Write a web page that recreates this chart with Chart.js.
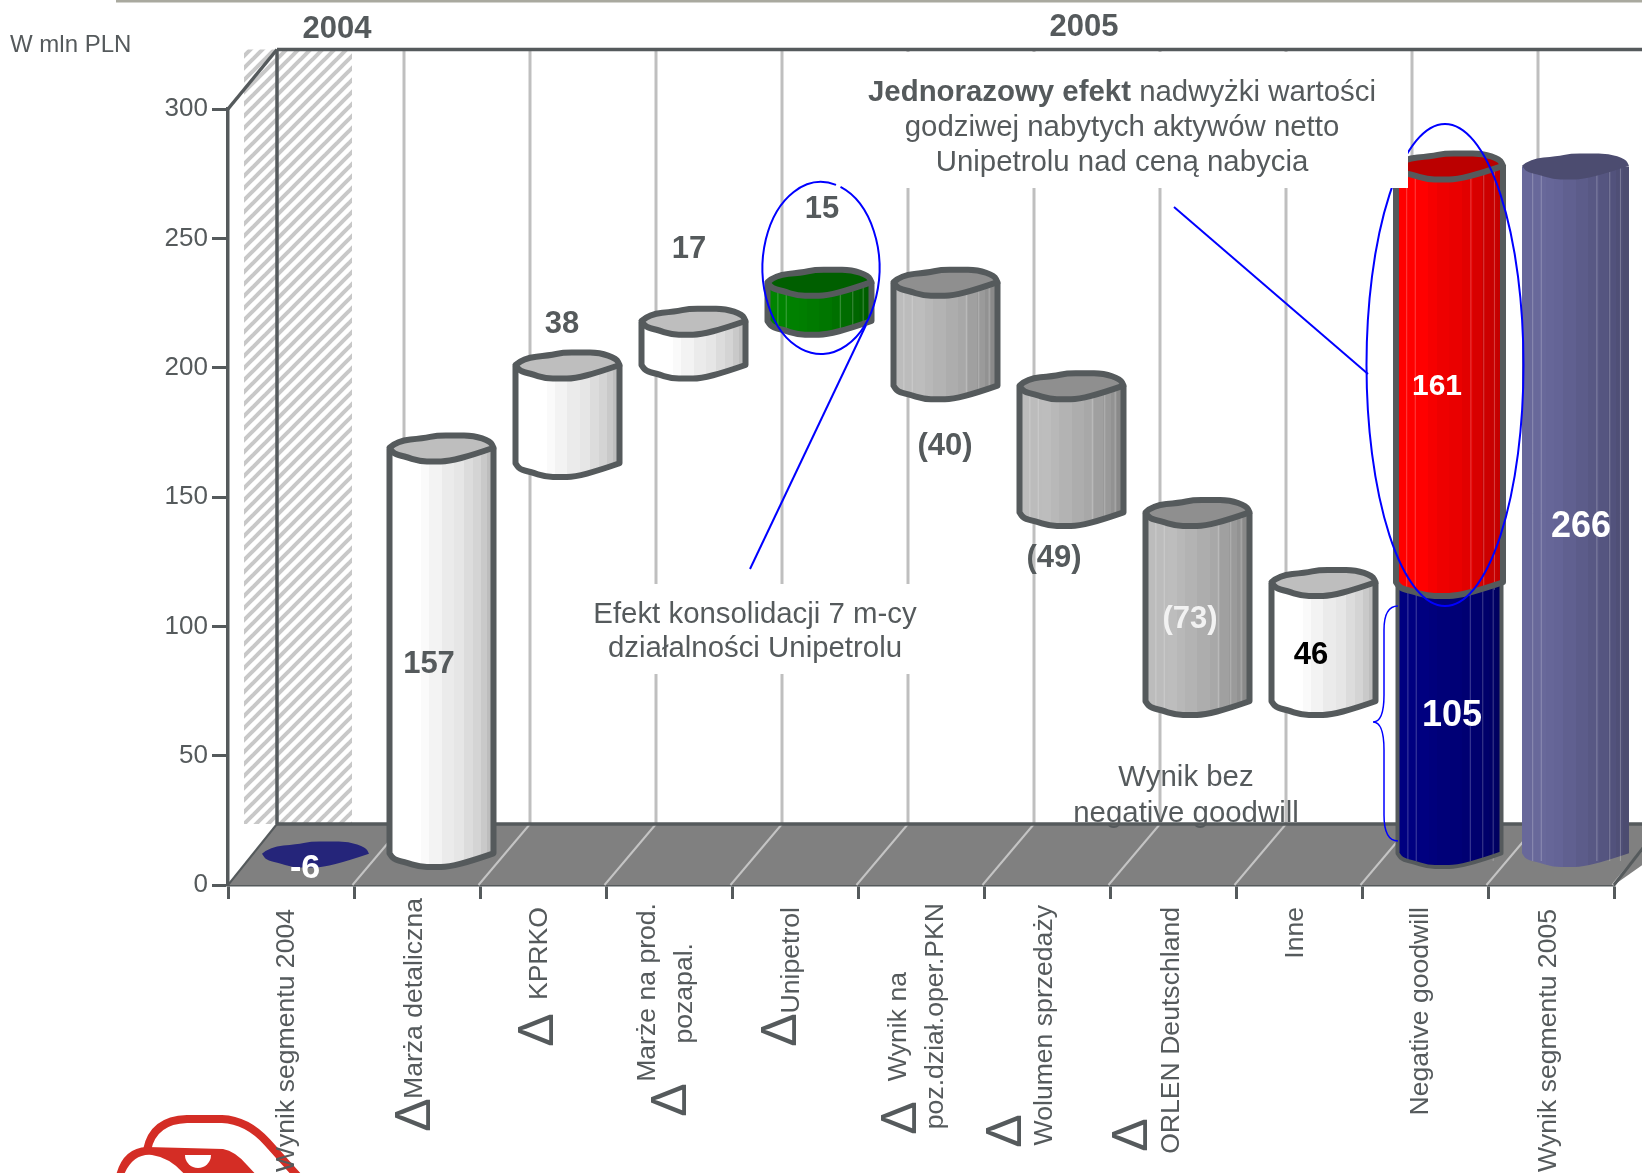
<!DOCTYPE html>
<html>
<head>
<meta charset="utf-8">
<style>
  html, body { margin: 0; padding: 0; background: #fff; overflow: hidden; }
  #wrap { width: 1642px; height: 1173px; }
</style>
<script src="https://cdn.jsdelivr.net/npm/chart.js@4"></script>
</head>
<body>
<div id="wrap"><canvas id="grafico" width="1642" height="1173"></canvas></div>
<script>
// datos del grafico
const categorias = ["Wynik segmentu 2004", "Marża detaliczna", "KPRKO", "Marże na prod. pozapal.", "Unipetrol",
  "Wynik na poz.dział.oper.PKN", "Wolumen sprzedaży", "ORLEN Deutschland", "Inne", "Negative goodwill", "Wynik segmentu 2005"];
const inicios = [0, 0, 151, 189, 206, 181, 132, 59, 59, 0, 0];
const finales = [0, 157, 189, 206, 221, 221, 181, 132, 105, 105, 266];
const goodwillInicio = 105;
const goodwillFinal = 266;
const etiquetasValor = ["-6", "157", "38", "17", "15", "(40)", "(49)", "(73)", "46", "105", "266"];
const etiquetaGoodwill = "161";
const ticksY = [0, 50, 100, 150, 200, 250, 300];

const GRIS = "#555a5c";
const FUENTE = "'Liberation Sans', Arial, sans-serif";
const DX = 49, DY = -61; // profundidad del piso

// colores de cada cilindro: bandas verticales de izq a der
const BLANCO = ["#ffffff", "#ffffff", "#fafafa", "#f3f3f3", "#ebebeb", "#e6e6e6", "#dcdcdc", "#d4d4d4", "#c9c9c9", "#bdbdbd"];
const PLOMO = ["#bcbcbc", "#bdbdbd", "#b8b8b8", "#b3b3b3", "#adadad", "#a8a8a8", "#a0a0a0", "#9a9a9a", "#929292", "#8a8a8a"];
const VERDE = ["#008400", "#008000", "#007e00", "#007a00", "#007600", "#007000", "#006c00", "#006600", "#006200", "#005c00"];
const ROJO = ["#ff0000", "#ff0000", "#f60000", "#ee0000", "#ea0000", "#e20000", "#d80000", "#cc0000", "#c80000", "#c20000"];
const AZUL = ["#000080", "#000080", "#00007c", "#000078", "#000076", "#000072", "#00006e", "#00006a", "#000066", "#000060"];
const LILA = ["#68689a", "#666698", "#646496", "#606090", "#5c5c8a", "#585884", "#555580", "#52527c", "#4f4f76", "#4c4c70"];
const estilos = [
  { tapa: "#25257a", bandas: null, borde: 0 },
  { tapa: "#bebebe", bandas: BLANCO, borde: 6 },
  { tapa: "#bebebe", bandas: BLANCO, borde: 6 },
  { tapa: "#bebebe", bandas: BLANCO, borde: 6 },
  { tapa: "#005f00", bandas: VERDE, borde: 6, rayas: true },
  { tapa: "#8f8f8f", bandas: PLOMO, borde: 6, rayas: true },
  { tapa: "#8f8f8f", bandas: PLOMO, borde: 6, rayas: true },
  { tapa: "#8f8f8f", bandas: PLOMO, borde: 6, rayas: true },
  { tapa: "#bebebe", bandas: BLANCO, borde: 6 },
  { tapa: null, bandas: AZUL, borde: 4, rayas: true },
  { tapa: "#4c4c70", bandas: LILA, borde: 0, rayas: true }
];
const estiloGoodwill = { tapa: "#bb0000", bandas: ROJO, borde: 6, rayas: true };

// contorno ondulado de la tapa, en unidades del radio
const ARRIBA = [[-1, -0.05], [-0.85, -0.6], [-0.35, -0.78], [-0.09, -1], [0.25, -1], [0.62, -1], [0.94, -0.55], [1, -0.05]];
const ABAJO = [[1, -0.05], [0.62, 0.48], [0.13, 1], [-0.15, 1], [-0.41, 1], [-0.73, 0.6], [-0.92, 0.42], [-1, -0.05]];

function trazo(ctx, pts, nuevo) {
  if (nuevo) ctx.moveTo(pts[0][0], pts[0][1]); else ctx.lineTo(pts[0][0], pts[0][1]);
  for (let i = 1; i < pts.length - 1; i++) {
    const mx = (pts[i][0] + pts[i + 1][0]) / 2, my = (pts[i][1] + pts[i + 1][1]) / 2;
    ctx.quadraticCurveTo(pts[i][0], pts[i][1], mx, my);
  }
  const u = pts[pts.length - 1];
  ctx.lineTo(u[0], u[1]);
}

function cilindro(ctx, bar, estilo) {
  const rx = bar.width / 2 + (estilo.borde ? 0 : 1.5), ry = 13;
  const x = bar.x + DX / 2, top = bar.y + DY / 2, base = bar.base + DY / 2;
  const esc = (forma, cy) => forma.map(p => [x + p[0] * rx, cy + p[1] * ry]);
  ctx.save();
  ctx.lineJoin = "round";
  if (estilo.bandas) {
    const g = ctx.createLinearGradient(x - rx, 0, x + rx, 0);
    const anchos = [0.22, 0.08, 0.08, 0.12, 0.12, 0.1, 0.08, 0.08, 0.06, 0.06];
    let acum = 0;
    estilo.bandas.forEach((c, i) => {
      g.addColorStop(acum, c);
      acum += anchos[i];
      g.addColorStop(Math.min(acum, 1), c);
    });
    ctx.beginPath();
    ctx.moveTo(x - rx, top);
    ctx.lineTo(x + rx, top);
    trazo(ctx, esc(ABAJO, base), false);
    ctx.closePath();
    ctx.fillStyle = g;
    ctx.fill();
    if (estilo.rayas) {
      ctx.strokeStyle = "rgba(255,255,255,0.25)";
      ctx.lineWidth = 1;
      [0.1, 0.18, 0.7, 0.82, 0.92].forEach(u => {
        ctx.beginPath();
        ctx.moveTo(x - rx + 2 * rx * u, top);
        ctx.lineTo(x - rx + 2 * rx * u, base + 7);
        ctx.stroke();
      });
    }
    if (estilo.borde) {
      ctx.beginPath();
      ctx.moveTo(x + rx, top);
      trazo(ctx, esc(ABAJO, base), false);
      ctx.lineTo(x - rx, top);
      ctx.strokeStyle = GRIS;
      ctx.lineWidth = estilo.borde;
      ctx.stroke();
    }
  }
  if (estilo.tapa) {
    ctx.beginPath();
    trazo(ctx, esc(ARRIBA, top), true);
    trazo(ctx, esc(ABAJO, top), false);
    ctx.closePath();
    ctx.fillStyle = estilo.tapa;
    ctx.fill();
    if (estilo.borde) {
      ctx.strokeStyle = GRIS;
      ctx.lineWidth = estilo.borde;
      ctx.stroke();
    }
  }
  ctx.restore();
}

function trama() {
  const c = document.createElement("canvas");
  c.width = 12; c.height = 12;
  const t = c.getContext("2d");
  t.strokeStyle = "#c8c8c8";
  t.lineWidth = 4;
  [[-12, 12, 12, -12], [0, 12, 12, 0], [0, 24, 24, 0]].forEach(l => {
    t.beginPath(); t.moveTo(l[0], l[1]); t.lineTo(l[2], l[3]); t.stroke();
  });
  return c;
}

function linea(ctx, x1, y1, x2, y2, color, ancho) {
  ctx.beginPath();
  ctx.moveTo(x1, y1);
  ctx.lineTo(x2, y2);
  ctx.strokeStyle = color;
  ctx.lineWidth = ancho;
  ctx.stroke();
}

function texto(ctx, s, x, y, fuente, color, align) {
  ctx.font = fuente;
  ctx.fillStyle = color;
  ctx.textAlign = align || "center";
  ctx.textBaseline = "middle";
  ctx.fillText(s, x, y + 2);
}

// pared, piso y lineas de fondo
const fondo = {
  id: "fondo",
  beforeDatasetsDraw(chart) {
    const ctx = chart.ctx, a = chart.chartArea;
    const paso = (a.right - a.left) / categorias.length;
    const yTop = a.top + DY + 1.5, yPiso = a.bottom + DY;
    ctx.save();
    // linea superior de la lamina
    linea(ctx, 116, 1, 1642, 1, "#a9a99f", 3);
    // trama de 2004
    ctx.fillStyle = ctx.createPattern(trama(), "repeat");
    ctx.fillRect(a.left + 16, yTop, paso - 16 - 2, yPiso - yTop);
    // piso
    ctx.beginPath();
    ctx.moveTo(a.left, a.bottom);
    ctx.lineTo(a.left + DX, yPiso);
    ctx.lineTo(1700, yPiso);
    ctx.lineTo(a.right, a.bottom);
    ctx.closePath();
    ctx.fillStyle = "#808080";
    ctx.fill();
    for (let i = 1; i <= categorias.length; i++) {
      const x = a.left + paso * i;
      if (i < categorias.length) linea(ctx, x + DX + 1, yTop, x + DX + 1, yPiso, "#bfbfbf", 3);
      linea(ctx, x - 1.5, a.bottom, x + DX + 1, yPiso, "#c4c4c4", 2);
    }
    // pared
    linea(ctx, a.left, a.top, a.left + DX, yTop, GRIS, 3.5);
    linea(ctx, a.left + DX, yTop, 1642, yTop, GRIS, 3.5);
    linea(ctx, a.left + DX, yTop, a.left + DX, yPiso, GRIS, 3.5);
    linea(ctx, a.left, a.bottom, a.left + DX, yPiso, GRIS, 2);
    linea(ctx, a.left + DX, yPiso, 1642, yPiso, GRIS, 3.5);
    linea(ctx, a.right, a.bottom, 1650, a.bottom - 46, GRIS, 3);
    ctx.restore();
  },
  // las barras se dibujan como cilindros, desde los elementos del propio chart
  beforeDatasetDraw(chart, args) {
    const meta = args.meta, datos = chart.data.datasets[args.index].data;
    meta.data.forEach((bar, i) => {
      if (!datos[i]) return;
      cilindro(chart.ctx, bar, args.index === 0 ? estilos[i] : estiloGoodwill);
    });
    return false;
  },
  afterDatasetsDraw(chart) {
    const ctx = chart.ctx;
    ctx.save();
    // elipses y lineas azules
    ctx.strokeStyle = "#0000ff";
    ctx.lineWidth = 2;
    ctx.beginPath();
    ctx.ellipse(821, 268, 58.5, 86, 0, -Math.PI / 2 + 0.34, -Math.PI / 2 + 0.26 + Math.PI * 2);
    ctx.stroke();
    ctx.beginPath();
    ctx.ellipse(1445, 365, 78.5, 241, 0, 0, Math.PI * 2);
    ctx.stroke();
    linea(ctx, 750, 569, 866, 325, "#0000ff", 2);
    linea(ctx, 1174, 207, 1368, 374, "#0000ff", 2);
    // llave azul
    ctx.beginPath();
    ctx.moveTo(1398, 606);
    ctx.quadraticCurveTo(1384, 606, 1384, 630);
    ctx.lineTo(1384, 695);
    ctx.quadraticCurveTo(1384, 722, 1373, 722);
    ctx.quadraticCurveTo(1384, 722, 1384, 750);
    ctx.lineTo(1384, 815);
    ctx.quadraticCurveTo(1384, 841, 1398, 841);
    ctx.strokeStyle = "#0000ff";
    ctx.lineWidth = 1.5;
    ctx.stroke();
    // cuadros blancos de los textos
    ctx.fillStyle = "#fff";
    ctx.fillRect(860, 52, 548, 136);
    ctx.fillRect(586, 584, 336, 90);

    const f = 29.4;
    ctx.font = "bold " + f + "px " + FUENTE;
    const neg = "Jednorazowy efekt";
    const resto = " nadwyżki wartości";
    const w1 = ctx.measureText(neg).width;
    ctx.font = f + "px " + FUENTE;
    const w2 = ctx.measureText(resto).width;
    const ini = 1122 - (w1 + w2) / 2;
    texto(ctx, neg, ini, 91, "bold " + f + "px " + FUENTE, GRIS, "left");
    texto(ctx, resto, ini + w1, 91, f + "px " + FUENTE, GRIS, "left");
    texto(ctx, "godziwej nabytych aktywów netto", 1122, 126, f + "px " + FUENTE, GRIS);
    texto(ctx, "Unipetrolu nad ceną nabycia", 1122, 161, f + "px " + FUENTE, GRIS);
    texto(ctx, "Efekt konsolidacji 7 m-cy", 755, 613, f + "px " + FUENTE, GRIS);
    texto(ctx, "działalności Unipetrolu", 755, 647, f + "px " + FUENTE, GRIS);
    texto(ctx, "Wynik bez", 1186, 776, f + "px " + FUENTE, GRIS);
    texto(ctx, "negative goodwill", 1186, 812, f + "px " + FUENTE, GRIS);
    texto(ctx, "2004", 337, 27, "bold 31px " + FUENTE, GRIS);
    texto(ctx, "2005", 1084, 25, "bold 31px " + FUENTE, GRIS);
    texto(ctx, "W mln PLN", 10, 43, "24px " + FUENTE, GRIS, "left");

    // etiquetas de valor
    const posValor = [[305, 867, 34, "#fff"], [429, 662, 31, GRIS], [562, 322, 31, GRIS], [689, 247, 31, GRIS], [822, 207, 31, GRIS],
      [945, 444, 31, GRIS], [1054, 556, 31, GRIS], [1190, 617, 31, "#f2f2f2"], [1311, 653, 31, "#000"], [1452, 714, 36, "#fff"], [1581, 525, 36, "#fff"]];
    etiquetasValor.forEach((s, i) => {
      const p = posValor[i];
      texto(ctx, s, p[0], p[1], "bold " + p[2] + "px " + FUENTE, p[3]);
    });
    texto(ctx, etiquetaGoodwill, 1437, 385, "bold 30px " + FUENTE, "#fff");
    ctx.restore();
  },
  afterDraw(chart) {
    const ctx = chart.ctx;
    ctx.save();
    logo(ctx);
    // nombres de categoria girados: [x, yInicio, texto], delta: [x, y]
    const nombres = [
      [[287, 909, "Wynik segmentu 2004"]],
      [[415, 898, "Marża detaliczna"]],
      [[540, 907, "KPRKO"]],
      [[648, 903, "Marże na prod."], [685, 943, "pozapal."]],
      [[792, 907, "Unipetrol"]],
      [[899, 972, "Wynik na"], [936, 903, "poz.dział.oper.PKN"]],
      [[1045, 905, "Wolumen sprzedaży"]],
      [[1172, 907, "ORLEN Deutschland"]],
      [[1296, 907, "Inne"]],
      [[1421, 907, "Negative goodwill"]],
      [[1549, 909, "Wynik segmentu 2005"]]
    ];
    const deltas = [null, [416, 1115], [539, 1030], [672, 1100], [782, 1030], [902, 1118], [1007, 1131], [1133, 1135], null, null, null];
    nombres.forEach((fila, i) => {
      fila.forEach(n => girado(ctx, n[2], n[0], n[1], "26.6px " + FUENTE));
      if (deltas[i]) girado(ctx, "Δ", deltas[i][0], deltas[i][1], "50px " + FUENTE, "center");
    });
    ctx.restore();
  }
};

function girado(ctx, s, x, y, fuente, align) {
  ctx.save();
  ctx.translate(x, y);
  ctx.rotate(-Math.PI / 2);
  ctx.font = fuente;
  ctx.fillStyle = GRIS;
  ctx.textAlign = align || "right";
  ctx.textBaseline = "middle";
  ctx.fillText(s, 0, 0);
  ctx.restore();
}

// logo rojo cortado abajo a la izquierda
function logo(ctx) {
  ctx.save();
  ctx.translate(-3, 0);
  ctx.strokeStyle = "#d42d25";
  ctx.fillStyle = "#d42d25";
  ctx.lineWidth = 8;
  ctx.beginPath();
  ctx.moveTo(150, 1150);
  ctx.quadraticCurveTo(156, 1120, 190, 1119);
  ctx.lineTo(225, 1119);
  ctx.quadraticCurveTo(250, 1120, 270, 1142);
  ctx.lineTo(306, 1182);
  ctx.stroke();
  ctx.beginPath();
  ctx.moveTo(118, 1180);
  ctx.quadraticCurveTo(124, 1148, 150, 1147);
  ctx.lineTo(226, 1149);
  ctx.quadraticCurveTo(238, 1151, 250, 1165);
  ctx.lineTo(264, 1180);
  ctx.closePath();
  ctx.fill();
  ctx.fillStyle = "#fff";
  ctx.beginPath();
  ctx.moveTo(125, 1180);
  ctx.quadraticCurveTo(134, 1153, 155, 1155);
  ctx.quadraticCurveTo(176, 1158, 192, 1180);
  ctx.closePath();
  ctx.fill();
  ctx.beginPath();
  ctx.arc(201, 1155, 13, 0, Math.PI);
  ctx.closePath();
  ctx.fill();
  ctx.restore();
}

const maskGoodwill = categorias.map((c, i) => i === 9 ? [goodwillInicio, goodwillFinal] : null);

new Chart(document.getElementById("grafico"), {
  type: "bar",
  data: {
    labels: categorias,
    datasets: [
      { label: "Wynik", data: categorias.map((c, i) => [inicios[i], finales[i]]), backgroundColor: "#bebebe", order: 1, barThickness: 104, grouped: false },
      { label: "Negative goodwill", data: maskGoodwill, backgroundColor: "#ff0000", order: 0, barThickness: 107, grouped: false }
    ]
  },
  plugins: [fondo],
  options: {
    responsive: false,
    animation: false,
    layout: { padding: { top: 109, right: 28, left: 0, bottom: 0 } },
    plugins: { legend: { display: false }, tooltip: { enabled: false } },
    scales: {
      x: {
        offset: true,
        afterFit(axis) { axis.height = 288; },
        grid: { offset: true, drawOnChartArea: false, tickLength: 14, tickColor: GRIS, tickWidth: 3 },
        border: { color: GRIS, width: 3.5 },
        ticks: { display: false }
      },
      y: {
        min: 0, max: 300,
        afterBuildTicks(axis) { axis.ticks = ticksY.map(v => ({ value: v })); },
        afterFit(axis) { axis.width = 228; },
        grid: { drawOnChartArea: false, tickLength: 16, tickColor: GRIS, tickWidth: 3 },
        border: { color: GRIS, width: 3.5 },
        ticks: { color: GRIS, padding: 4, font: { family: "'Liberation Sans', Arial, sans-serif", size: 26 } }
      }
    }
  }
});
</script>
</body>
</html>
